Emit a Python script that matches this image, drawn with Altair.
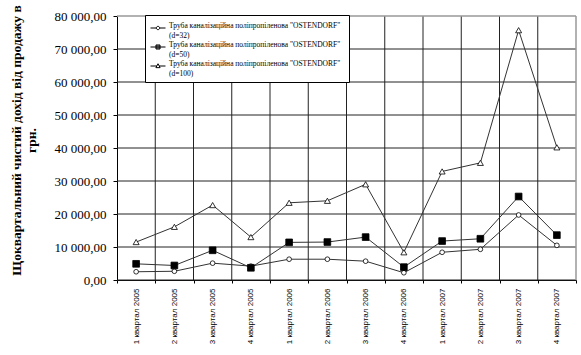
import altair as alt
import pandas as pd

quarters = ["1 квартал 2005", "2 квартал 2005", "3 квартал 2005", "4 квартал 2005",
            "1 квартал 2006", "2 квартал 2006", "3 квартал 2006", "4 квартал 2006",
            "1 квартал 2007", "2 квартал 2007", "3 квартал 2007", "4 квартал 2007"]
d32 = [2500, 2650, 5100, 4200, 6300, 6300, 5700, 2200, 8400, 9300, 19700, 10500]
d50 = [4900, 4400, 9000, 3700, 11400, 11500, 13000, 3900, 11800, 12500, 25300, 13600]
d100 = [11500, 16100, 22700, 13000, 23400, 24000, 29000, 8400, 32900, 35500, 75700, 40200]
y_ticks = [0, 10000, 20000, 30000, 40000, 50000, 60000, 70000, 80000]

base_name = 'Труба каналізаційна  поліпропіленова  "OSTENDORF"'
series_names = [base_name + "|(d=32)", base_name + "|(d=50)", base_name + "|(d=100)"]
series_values = [d32, d50, d100]

rows = []
for name, vals in zip(series_names, series_values):
    for q, v in zip(quarters, vals):
        rows.append({"quarter": q, "value": v, "series": name})
df = pd.DataFrame(rows)

x_scale = alt.Scale(type="band", paddingInner=0, paddingOuter=0)
y_scale = alt.Scale(domain=[0, 80000], nice=False)

x_axis = alt.Axis(title=None, labelAngle=270, tickBand="extent", grid=False,
                  domainColor="#000", tickColor="#000", tickSize=3,
                  labelFont="Liberation Sans", labelFontSize=8, labelColor="#000",
                  labelPadding=5, labelAlign="right", labelBaseline="middle")
y_axis = alt.Axis(values=y_ticks, format=",.2f", grid=False,
                  title=["Щоквартальний чистий дохід від продажу в", "грн."],
                  titleFont="Liberation Serif", titleFontSize=13.5, titleFontWeight="bold",
                  titleColor="#000", titleAngle=270, titleX=-108, titleY=124,
                  titleAlign="center", titleBaseline="top",
                  labelFont="Liberation Serif", labelFontSize=13, labelColor="#000",
                  tickSize=4, tickColor="#000", domainColor="#000", labelPadding=7)

x_enc = alt.X("quarter:N", sort=quarters, scale=x_scale, axis=x_axis)
y_enc = alt.Y("value:Q", scale=y_scale, axis=y_axis)

# grid lines drawn from the tick values / categories
hgrid = alt.Chart(pd.DataFrame({"value": y_ticks[:-1]})).mark_rule(
    color="#222", strokeWidth=1).encode(y=y_enc)
top_line = alt.Chart(pd.DataFrame({"value": y_ticks[-1:]})).mark_rule(
    color="#999", strokeWidth=1.5).encode(y=y_enc)
vgrid = alt.Chart(pd.DataFrame({"quarter": quarters[1:]})).mark_rule(
    color="#222", strokeWidth=1).encode(
    x=alt.X("quarter:N", sort=quarters, scale=x_scale, axis=x_axis, bandPosition=0))
right_line = alt.Chart(pd.DataFrame({"quarter": quarters[-1:]})).mark_rule(
    color="#999", strokeWidth=1.5).encode(
    x=alt.X("quarter:N", sort=quarters, scale=x_scale, axis=x_axis, bandPosition=1))

lines = alt.Chart(df).mark_line(color="#333", strokeWidth=1).encode(
    x=x_enc, y=y_enc, detail="series:N")

shapes = ["circle", "square", "triangle-up"]
fills = ["white", "black", "white"]
sizes = [22, 45, 36]
point_layers = []
for name, shp, fl, sz in zip(series_names, shapes, fills, sizes):
    point_layers.append(
        alt.Chart(df).transform_filter(alt.datum.series == name).mark_point(
            shape=shp, filled=True, fill=fl, stroke="#000", strokeWidth=0.8, size=sz, opacity=1
        ).encode(x=x_enc, y=y_enc)
    )

legend_paths = [
    "M-1,0L-0.22,0M0.22,0L1,0M-0.22,0A0.22,0.22 0 1 1 0.22,0A0.22,0.22 0 1 1 -0.22,0Z",
    "M-1,0L1,0M-0.27,-0.27L0.27,-0.27L0.27,0.27L-0.27,0.27ZM-0.27,-0.13L0.27,-0.13M-0.27,0.13L0.27,0.13",
    "M-1,0L-0.16,0M0.16,0L1,0M0,-0.3L0.28,0.22L-0.28,0.22Z",
]
leg = alt.Legend(title=None, orient="none", legendX=28, legendY=-1,
                 labelExpr="split(datum.label, '|')",
                 labelFont="Liberation Serif", labelFontSize=7.5,
                 labelColor="#000", labelLimit=400,
                 strokeColor="#000", fillColor="white", padding=5,
                 rowPadding=-2, symbolOpacity=1, symbolStrokeColor="#000",
                 symbolFillColor="white", symbolStrokeWidth=1, symbolSize=225,
                 labelBaseline="alphabetic", labelOffset=3)
legend_layer = alt.Chart(df).transform_filter("false").mark_point(
    size=225, strokeWidth=1, color="#000", opacity=1, filled=False
).encode(
    shape=alt.Shape("series:N", scale=alt.Scale(domain=series_names, range=legend_paths), legend=leg),
)

chart = alt.layer(hgrid, vgrid, top_line, right_line, lines, *point_layers, legend_layer).properties(
    width=459, height=264,
    autosize=alt.AutoSizeParams(type="none"),
    padding={"left": 117, "top": 16, "right": 5, "bottom": 75},
    background="white",
).configure(
    locale={"number": {"decimal": ",", "thousands": "\u00a0", "grouping": [3], "currency": ["", ""]}},
    view={"stroke": None},
)

chart.save("out.html", embed_options={"renderer": "svg", "actions": False})
